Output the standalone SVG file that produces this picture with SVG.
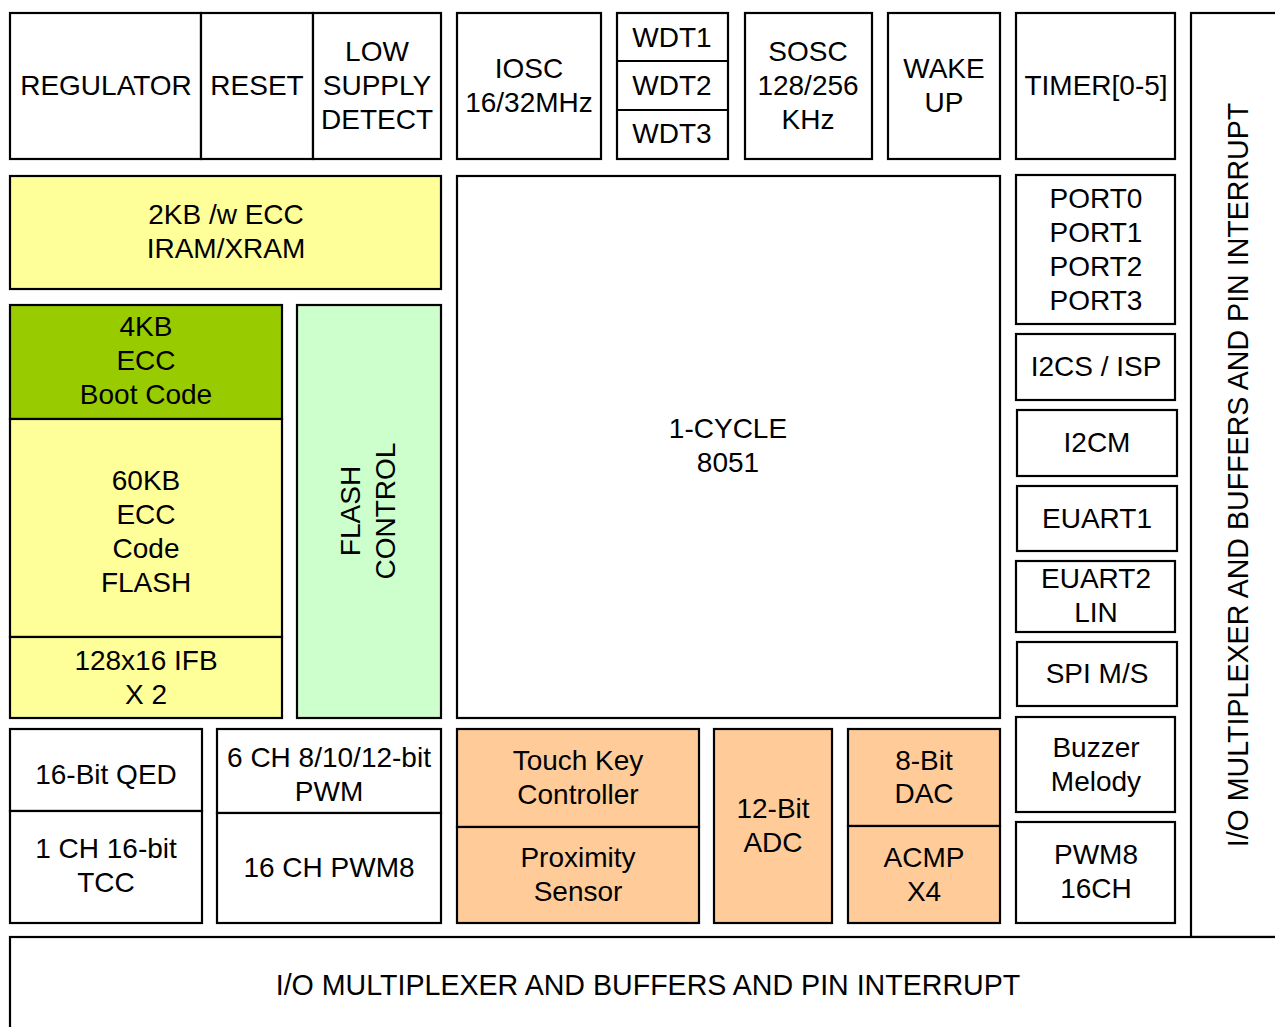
<svg xmlns="http://www.w3.org/2000/svg" width="1275" height="1027" viewBox="0 0 1275 1027">
<style>
rect{stroke:#000;stroke-width:2.2;fill:#fff}
line{stroke:#000;stroke-width:2.2}
.y{fill:#FFFF99}.g{fill:#99CC00}.lg{fill:#CCFFCC}.o{fill:#FFCC99}
text{font-family:"Liberation Sans",Arial,sans-serif;font-size:28px;fill:#000;text-anchor:middle}
text.io{font-size:28.6px}
</style>
<rect width="1275" height="1027" style="fill:#fff;stroke:none"/>
<g id="io-right"><rect x="1191" y="13" width="100" height="924"/><text class="io" transform="translate(1248,475) rotate(-90)">I/O MULTIPLEXER AND BUFFERS AND PIN INTERRUPT</text></g>
<g id="io-bottom"><rect x="10" y="937" width="1290" height="110"/><text class="io" x="648" y="995">I/O MULTIPLEXER AND BUFFERS AND PIN INTERRUPT</text></g>
<g id="regulator"><rect x="10" y="13" width="191" height="146"/><text x="106" y="95">REGULATOR</text></g>
<g id="reset"><rect x="201" y="13" width="112" height="146"/><text x="257" y="95">RESET</text></g>
<g id="lsd"><rect x="313" y="13" width="128" height="146"/><text x="377" y="61">LOW</text><text x="377" y="95">SUPPLY</text><text x="377" y="129">DETECT</text></g>
<g id="iosc"><rect x="457" y="13" width="144" height="146"/><text x="529" y="78">IOSC</text><text x="529" y="112">16/32MHz</text></g>
<g id="wdt"><rect x="617" y="13" width="111" height="146"/><line x1="617" y1="61" x2="728" y2="61"/><line x1="617" y1="110" x2="728" y2="110"/><text x="672" y="47">WDT1</text><text x="672" y="95">WDT2</text><text x="672" y="143">WDT3</text></g>
<g id="sosc"><rect x="745" y="13" width="127" height="146"/><text x="808" y="61">SOSC</text><text x="808" y="95">128/256</text><text x="808" y="129">KHz</text></g>
<g id="wake"><rect x="888" y="13" width="112" height="146"/><text x="944" y="78">WAKE</text><text x="944" y="112">UP</text></g>
<g id="timer"><rect x="1016" y="13" width="159" height="146"/><text x="1096" y="95">TIMER[0-5]</text></g>
<g id="iram"><rect class="y" x="10" y="176" width="431" height="113"/><text x="226" y="224">2KB /w ECC</text><text x="226" y="258">IRAM/XRAM</text></g>
<g id="boot"><rect class="g" x="10" y="305" width="272" height="114"/><text x="146" y="336">4KB</text><text x="146" y="370">ECC</text><text x="146" y="404">Boot Code</text></g>
<g id="codeflash"><rect class="y" x="10" y="419" width="272" height="218"/><text x="146" y="490">60KB</text><text x="146" y="524">ECC</text><text x="146" y="558">Code</text><text x="146" y="592">FLASH</text></g>
<g id="ifb"><rect class="y" x="10" y="637" width="272" height="81"/><text x="146" y="670">128x16 IFB</text><text x="146" y="704">X 2</text></g>
<g id="flashctl"><rect class="lg" x="297" y="305" width="144" height="413"/><text transform="translate(369,511) rotate(-90)"><tspan x="0" y="-9">FLASH</tspan><tspan x="0" y="26">CONTROL</tspan></text></g>
<g id="cpu"><rect x="457" y="176" width="543" height="542"/><text x="728" y="438">1-CYCLE</text><text x="728" y="472">8051</text></g>
<g id="ports"><rect x="1016" y="175" width="159" height="149"/><text x="1096" y="208">PORT0</text><text x="1096" y="242">PORT1</text><text x="1096" y="276">PORT2</text><text x="1096" y="310">PORT3</text></g>
<g id="i2cs"><rect x="1016" y="334" width="159" height="66"/><text x="1096" y="376">I2CS / ISP</text></g>
<g id="i2cm"><rect x="1017" y="410" width="160" height="66"/><text x="1097" y="452">I2CM</text></g>
<g id="euart1"><rect x="1017" y="486" width="160" height="65"/><text x="1097" y="528">EUART1</text></g>
<g id="euart2"><rect x="1016" y="561" width="159" height="71"/><text x="1096" y="588">EUART2</text><text x="1096" y="622">LIN</text></g>
<g id="spi"><rect x="1017" y="642" width="160" height="64"/><text x="1097" y="683">SPI M/S</text></g>
<g id="buzzer"><rect x="1016" y="717" width="159" height="95"/><text x="1096" y="757">Buzzer</text><text x="1096" y="791">Melody</text></g>
<g id="pwm8"><rect x="1016" y="822" width="159" height="101"/><text x="1096" y="864">PWM8</text><text x="1096" y="898">16CH</text></g>
<g id="qed"><rect x="10" y="729" width="192" height="82"/><text x="106" y="784">16-Bit QED</text></g>
<g id="tcc"><rect x="10" y="811" width="192" height="112"/><text x="106" y="858">1 CH 16-bit</text><text x="106" y="892">TCC</text></g>
<g id="pwm6"><rect x="217" y="729" width="224" height="84"/><text x="329" y="767">6 CH 8/10/12-bit</text><text x="329" y="801">PWM</text></g>
<g id="pwm16"><rect x="217" y="813" width="224" height="110"/><text x="329" y="877">16 CH PWM8</text></g>
<g id="touch"><rect class="o" x="457" y="729" width="242" height="98"/><text x="578" y="770">Touch Key</text><text x="578" y="804">Controller</text></g>
<g id="prox"><rect class="o" x="457" y="827" width="242" height="96"/><text x="578" y="867">Proximity</text><text x="578" y="901">Sensor</text></g>
<g id="adc"><rect class="o" x="714" y="729" width="118" height="194"/><text x="773" y="818">12-Bit</text><text x="773" y="852">ADC</text></g>
<g id="dac"><rect class="o" x="848" y="729" width="152" height="97"/><text x="924" y="770">8-Bit</text><text x="924" y="803">DAC</text></g>
<g id="acmp"><rect class="o" x="848" y="826" width="152" height="97"/><text x="924" y="867">ACMP</text><text x="924" y="901">X4</text></g>
<g id="connectors"/>
</svg>
